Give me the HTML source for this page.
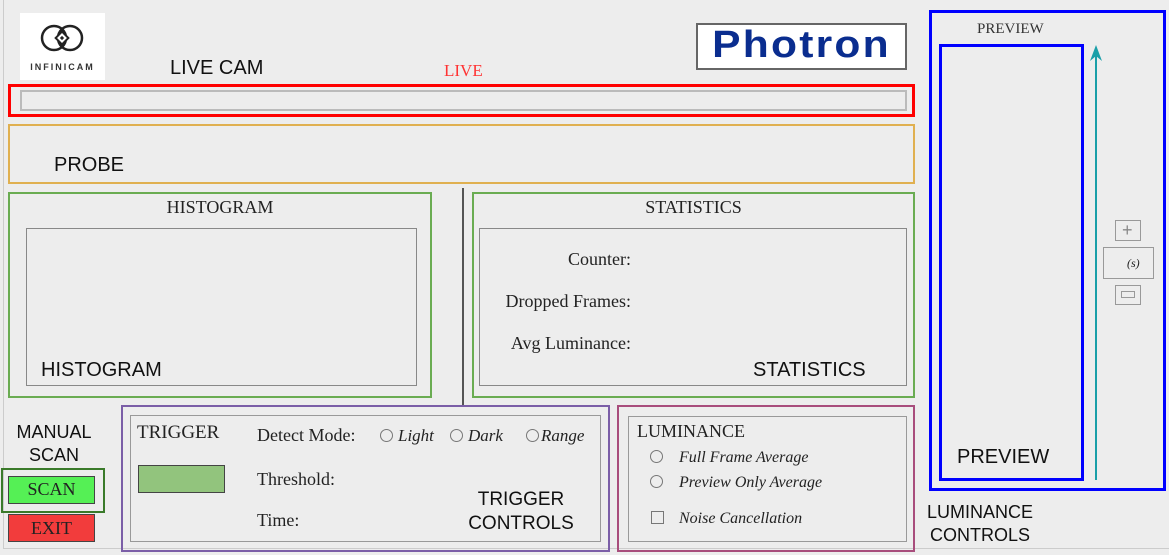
<!DOCTYPE html>
<html><head><meta charset="utf-8"><style>
*{margin:0;padding:0;box-sizing:border-box}
body{width:1169px;height:555px;background:#ededed;position:relative;overflow:hidden;font-family:"Liberation Serif",serif;color:#222}
.a{position:absolute}
.s{font-family:"Liberation Sans",sans-serif;color:#111}
.b{position:absolute;border-style:solid}
.r{display:inline-block;width:13px;height:13px;border:1px solid #777;border-radius:50%;vertical-align:-1px;margin-right:5px}
i{font-style:italic}
</style></head><body>
<div class="b" style="left:3px;top:0;width:1px;height:549px;border-width:0 0 0 1px;border-color:#ccc"></div>
<div class="b" style="left:3px;top:548px;width:1166px;height:1px;border-width:1px 0 0 0;border-color:#ccc"></div>

<!-- Infinicam logo -->
<div class="a" style="left:20px;top:13px;width:85px;height:67px;background:#fff"></div>
<svg class="a" style="left:38px;top:23px" width="48" height="30" viewBox="0 0 48 30">
<circle cx="16" cy="15" r="12" fill="none" stroke="#222" stroke-width="2.5"/>
<circle cx="32" cy="15" r="12" fill="none" stroke="#222" stroke-width="2.5"/>
<rect x="19.5" y="10.5" width="9" height="9" transform="rotate(45 24 15)" fill="#fff" stroke="#222" stroke-width="2"/>
<rect x="22.5" y="13.5" width="3" height="3" transform="rotate(45 24 15)" fill="#222"/>
</svg>
<div class="a s" style="left:20px;top:62px;width:85px;text-align:center;font-size:9px;font-weight:bold;letter-spacing:2px;color:#333">INFINICAM</div>

<div class="a s" style="left:170px;top:57px;font-size:20px">LIVE CAM</div>
<div class="a" style="left:444px;top:61px;font-size:17px;color:#f33">LIVE</div>

<!-- Photron -->
<div class="b" style="left:696px;top:23px;width:211px;height:47px;background:#fff;border-width:2px;border-color:#666"></div>
<div class="a s" style="left:696px;top:24px;width:211px;text-align:center;font-size:38px;font-weight:bold;color:#0a2d8f;letter-spacing:2px;transform:scaleX(1.12)">Photron</div>

<!-- Live -->
<div class="b" style="left:8px;top:84px;width:907px;height:33px;border-width:3px;border-color:#f00"></div>
<div class="b" style="left:20px;top:90px;width:887px;height:21px;border-width:2px;border-color:#bbb"></div>

<!-- Probe -->
<div class="b" style="left:8px;top:124px;width:907px;height:60px;border-width:2px;border-color:#e0b050"></div>
<div class="a s" style="left:54px;top:154px;font-size:20px">PROBE</div>

<!-- Histogram -->
<div class="b" style="left:8px;top:192px;width:424px;height:206px;border-width:2px;border-color:#6aac52"></div>
<div class="a" style="left:8px;top:197px;width:424px;text-align:center;font-size:18px">HISTOGRAM</div>
<div class="b" style="left:26px;top:228px;width:391px;height:158px;border-width:1px;border-color:#888"></div>
<div class="a s" style="left:41px;top:359px;font-size:20px">HISTOGRAM</div>

<div class="a" style="left:462px;top:188px;width:2px;height:217px;background:#555"></div>

<!-- Statistics -->
<div class="b" style="left:472px;top:192px;width:443px;height:206px;border-width:2px;border-color:#6aac52"></div>
<div class="a" style="left:472px;top:197px;width:443px;text-align:center;font-size:18px">STATISTICS</div>
<div class="b" style="left:479px;top:228px;width:428px;height:158px;border-width:1px;border-color:#888"></div>
<div class="a" style="left:470px;top:238px;width:161px;text-align:right;font-size:18px;line-height:42px">Counter:<br>Dropped Frames:<br>Avg Luminance:</div>
<div class="a s" style="left:753px;top:359px;font-size:20px">STATISTICS</div>

<!-- Preview -->
<div class="b" style="left:929px;top:10px;width:237px;height:481px;border-width:3px;border-color:#00f"></div>
<div class="a" style="left:977px;top:21px;font-size:15px;color:#333">PREVIEW</div>
<div class="b" style="left:939px;top:44px;width:145px;height:437px;border-width:3px;border-color:#00f"></div>
<div class="a s" style="left:957px;top:446px;font-size:20px">PREVIEW</div>
<div class="a" style="left:1095px;top:52px;width:2px;height:428px;background:#1a9fa8"></div>
<svg class="a" style="left:1089px;top:45px" width="14" height="18"><polygon points="7,0 13,16 7,11 1,16" fill="#1a9fa8"/></svg>
<div class="b" style="left:1115px;top:220px;width:26px;height:21px;border-width:1px;border-color:#999"></div>
<div class="a" style="left:1122px;top:223px;font-size:18px;line-height:14px;color:#888;font-family:'Liberation Sans'">+</div>
<div class="b" style="left:1103px;top:247px;width:51px;height:32px;border-width:1px;border-color:#999"></div>
<div class="a" style="left:1127px;top:256px;font-size:12px;font-style:italic">(s)</div>
<div class="b" style="left:1115px;top:285px;width:26px;height:20px;border-width:1px;border-color:#999"></div>
<div class="b" style="left:1121px;top:291px;width:14px;height:7px;border-width:1px;border-color:#999"></div>

<!-- Manual scan -->
<div class="a s" style="left:4px;top:421px;width:100px;text-align:center;font-size:18px;line-height:23px">MANUAL<br>SCAN</div>
<div class="b" style="left:1px;top:468px;width:104px;height:45px;border-width:2px;border-color:#3a7a2a"></div>
<div class="b" style="left:8px;top:476px;width:87px;height:28px;background:#55f055;border-width:1px;border-color:#444"></div>
<div class="a" style="left:8px;top:479px;width:87px;text-align:center;font-size:18px">SCAN</div>
<div class="b" style="left:8px;top:514px;width:87px;height:28px;background:#f23c3c;border-width:1px;border-color:#444"></div>
<div class="a" style="left:8px;top:518px;width:87px;text-align:center;font-size:18px">EXIT</div>

<!-- Trigger -->
<div class="b" style="left:121px;top:405px;width:489px;height:147px;border-width:2px;border-color:#7b5ea7"></div>
<div class="b" style="left:130px;top:415px;width:471px;height:127px;border-width:1px;border-color:#999"></div>
<div class="a" style="left:137px;top:422px;font-size:19px">TRIGGER</div>
<div class="b" style="left:138px;top:465px;width:87px;height:28px;background:#92c47d;border-width:1px;border-color:#444"></div>
<div class="a" style="left:257px;top:425px;font-size:18px">Detect Mode:</div>
<div class="a" style="left:380px;top:426px;font-size:17px"><span class="r"></span><i>Light</i></div>
<div class="a" style="left:450px;top:426px;font-size:17px"><span class="r"></span><i>Dark</i></div>
<div class="a" style="left:526px;top:426px;font-size:17px"><span class="r" style="margin-right:2px"></span><i>Range</i></div>
<div class="a" style="left:257px;top:469px;font-size:18px">Threshold:</div>
<div class="a" style="left:257px;top:510px;font-size:18px">Time:</div>
<div class="a s" style="left:455px;top:488px;width:132px;text-align:center;font-size:19px;line-height:24px">TRIGGER<br>CONTROLS</div>

<!-- Luminance -->
<div class="b" style="left:617px;top:405px;width:298px;height:147px;border-width:2px;border-color:#a84d7c"></div>
<div class="b" style="left:628px;top:416px;width:279px;height:126px;border-width:1px;border-color:#999"></div>
<div class="a" style="left:637px;top:421px;font-size:18px">LUMINANCE</div>
<div class="a" style="left:650px;top:449px;font-size:16px"><span class="r" style="margin-right:16px"></span><i>Full Frame Average</i></div>
<div class="a" style="left:650px;top:474px;font-size:16px"><span class="r" style="margin-right:16px"></span><i>Preview Only Average</i></div>
<div class="a" style="left:651px;top:510px;font-size:16px"><span class="r" style="border-radius:0;margin-right:15px"></span><i>Noise Cancellation</i></div>

<div class="a s" style="left:915px;top:501px;width:130px;text-align:center;font-size:18px;line-height:23px">LUMINANCE<br>CONTROLS</div>
</body></html>
